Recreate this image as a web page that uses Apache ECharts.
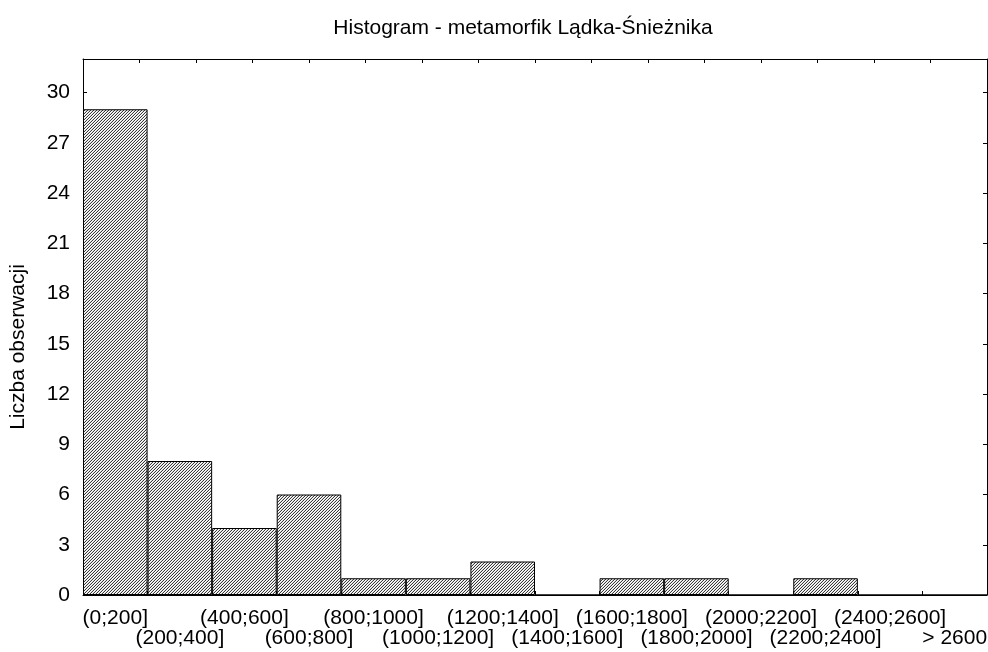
<!DOCTYPE html>
<html>
<head>
<meta charset="utf-8">
<script src="https://cdn.jsdelivr.net/npm/echarts@6/dist/echarts.min.js"></script>
<style>
html,body{margin:0;padding:0;background:#fff;}
#main{width:988px;height:652px;}
</style>
</head>
<body>
<div id="main"></div>
<script>
const categories = ['(0;200]','(200;400]','(400;600]','(600;800]','(800;1000]','(1000;1200]','(1200;1400]','(1400;1600]','(1600;1800]','(1800;2000]','(2000;2200]','(2200;2400]','(2400;2600]','> 2600'];
const counts = [29, 8, 4, 6, 1, 1, 2, 0, 1, 1, 0, 1, 0, 0];
const yTicks = [0, 3, 6, 9, 12, 15, 18, 21, 24, 27, 30];

const tile = document.createElement('canvas');
tile.width = 3; tile.height = 3;
const tctx = tile.getContext('2d');
for (let x = 0; x < 3; x++) {
  for (let y = 0; y < 3; y++) {
    const k = (x + y) % 3;
    tctx.fillStyle = k === 2 ? '#3a3a3a' : (k === 1 ? '#dddddd' : '#ffffff');
    tctx.fillRect(x, y, 1, 1);
  }
}

const font = '"Liberation Sans", Arial, sans-serif';
const fs = 21;
const chart = echarts.init(document.getElementById('main'));
chart.setOption({
  animation: false,
  backgroundColor: '#fff',
  title: {
    text: 'Histogram - metamorfik Lądka-Śnieżnika',
    left: 518, top: 13, textAlign: 'center',
    textStyle: {fontFamily: font, fontSize: fs, fontWeight: 'normal', color: '#000'}
  },
  grid: {left: 83, right: 1, top: 59, bottom: 57, show: false, containLabel: false, outerBoundsMode: 'none'},
  xAxis: [{
    type: 'category', data: categories, position: 'bottom',
    axisLine: {show: true, lineStyle: {color: '#000', width: 1}},
    axisTick: {show: true, inside: true, length: 4, lineStyle: {color: '#000'}},
    axisLabel: {
      interval: 0, hideOverlap: false, margin: 13, color: '#000',
      fontFamily: font, fontSize: fs, lineHeight: 20,
      formatter: function (v, i) { return i % 2 === 1 ? '\n' + v : v; }
    },
    splitLine: {show: false}
  }, {
    type: 'value', position: 'top', min: 0, max: 16, interval: 1,
    axisLine: {show: true, onZero: false, lineStyle: {color: '#000', width: 1}},
    axisTick: {show: true, inside: true, length: 4, lineStyle: {color: '#000'}},
    axisLabel: {show: false}, splitLine: {show: false}
  }],
  yAxis: [{
    type: 'value', min: 0, max: 32, interval: 3,
    name: 'Liczba obserwacji', nameLocation: 'middle', nameGap: 54, nameRotate: 90,
    nameTextStyle: {fontFamily: font, fontSize: fs, color: '#000', padding: [0, 40, 0, 0]},
    axisLine: {show: true, lineStyle: {color: '#000', width: 1}},
    axisTick: {show: true, inside: true, length: 4, lineStyle: {color: '#000'}},
    axisLabel: {
      margin: 13, color: '#000', fontFamily: font, fontSize: fs, showMaxLabel: false,
      formatter: function (v) { return yTicks.indexOf(v) >= 0 ? String(v) : ''; }
    },
    splitLine: {show: false}
  }, {
    type: 'value', position: 'right', min: 0, max: 32, interval: 3,
    axisLine: {show: true, onZero: false, lineStyle: {color: '#000', width: 1}},
    axisTick: {show: true, inside: true, length: 4, lineStyle: {color: '#000'}},
    axisLabel: {show: false}, splitLine: {show: false}
  }],
  series: [{
    type: 'bar', data: counts, xAxisIndex: 0, yAxisIndex: 0,
    barCategoryGap: '0%',
    itemStyle: {color: {image: tile, repeat: 'repeat'}, borderColor: '#000', borderWidth: 1}
  }]
});
</script>
</body>
</html>
